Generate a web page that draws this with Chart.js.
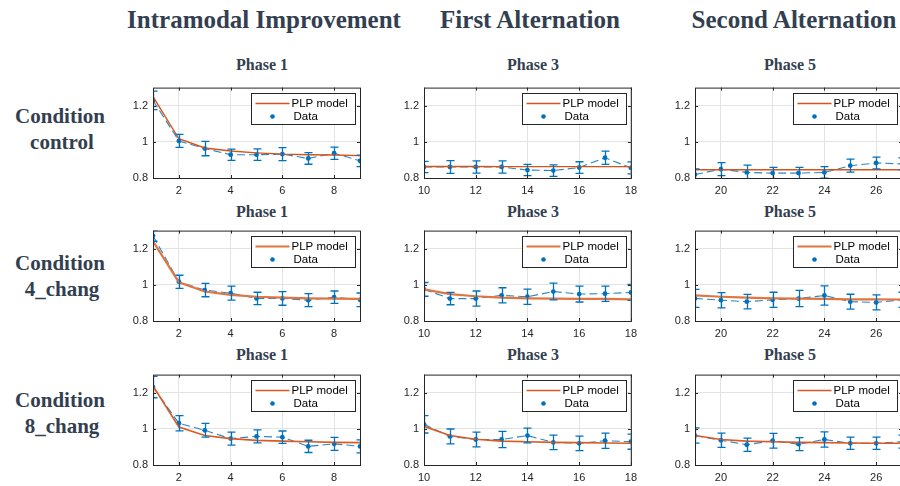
<!DOCTYPE html>
<html>
<head>
<meta charset="utf-8">
<script src="https://cdn.jsdelivr.net/npm/chart.js@4.4.1/dist/chart.umd.min.js"></script>
<style>
  body { margin: 0; width: 900px; height: 486px; overflow: hidden; background: #fff; position: relative; }
  .txt { position: absolute; font-family: "Liberation Serif", serif; font-weight: bold; color: #333f50; white-space: nowrap; transform: translate(-50%, -50%); }
  .head { font-size: 25px; }
  .cond { font-size: 21px; }
  .phase { font-size: 16px; }
  canvas { position: absolute; }
</style>
</head>
<body>
<div class="txt head" style="left:264px;top:20px">Intramodal Improvement</div>
<div class="txt head" style="left:530px;top:20px">First Alternation</div>
<div class="txt head" style="left:794px;top:20px">Second Alternation</div>

<div class="txt cond" style="left:60px;top:116px">Condition</div>
<div class="txt cond" style="left:62px;top:142px">control</div>
<div class="txt cond" style="left:60px;top:263px">Condition</div>
<div class="txt cond" style="left:62px;top:289px">4_chang</div>
<div class="txt cond" style="left:60px;top:400px">Condition</div>
<div class="txt cond" style="left:62px;top:426px">8_chang</div>

<script>
// trial numbers per phase
const trialsP1 = [1, 2, 3, 4, 5, 6, 7, 8, 9];
const trialsP3 = [10, 11, 12, 13, 14, 15, 16, 17, 18];
const trialsP5 = [19, 20, 21, 22, 23, 24, 25, 26, 27];

const xTicksP1 = [2, 4, 6, 8];
const xTicksP3 = [10, 12, 14, 16, 18];
const xTicksP5 = [20, 22, 24, 26];
const yTicks = [0.8, 1, 1.2];

// Condition control
const ctrlP1 = [1.229, 1.005, 0.963, 0.929, 0.929, 0.932, 0.908, 0.937, 0.895];
const ctrlP1Err = [0.051, 0.036, 0.040, 0.031, 0.032, 0.036, 0.032, 0.034, 0.032];
const ctrlP1Model = [1.25, 1.017, 0.966, 0.949, 0.939, 0.932, 0.929, 0.927, 0.924];
const ctrlP3 = [0.861, 0.861, 0.861, 0.861, 0.844, 0.841, 0.858, 0.912, 0.856];
const ctrlP3Err = [0.031, 0.035, 0.034, 0.034, 0.031, 0.032, 0.032, 0.037, 0.033];
const ctrlP3Model = [0.864, 0.864, 0.864, 0.863, 0.863, 0.863, 0.863, 0.863, 0.863];
const ctrlP5 = [0.819, 0.849, 0.831, 0.827, 0.827, 0.831, 0.868, 0.883, 0.878];
const ctrlP5Err = [0.031, 0.036, 0.040, 0.032, 0.032, 0.032, 0.036, 0.033, 0.033];
const ctrlP5Model = [0.846, 0.846, 0.846, 0.846, 0.846, 0.846, 0.846, 0.846, 0.846];

// Condition 4_chang
const c4P1 = [1.271, 1.017, 0.971, 0.954, 0.925, 0.925, 0.915, 0.932, 0.917];
const c4P1Err = [0.030, 0.036, 0.037, 0.039, 0.034, 0.038, 0.036, 0.034, 0.038];
const c4P1Model = [1.242, 1.014, 0.963, 0.944, 0.934, 0.929, 0.925, 0.924, 0.922];
const c4P3 = [0.975, 0.924, 0.924, 0.942, 0.934, 0.963, 0.949, 0.951, 0.958];
const c4P3Err = [0.038, 0.034, 0.042, 0.042, 0.042, 0.046, 0.044, 0.042, 0.044];
const c4P3Model = [0.975, 0.949, 0.937, 0.929, 0.925, 0.924, 0.922, 0.922, 0.920];
const c4P5 = [0.925, 0.915, 0.907, 0.917, 0.924, 0.941, 0.907, 0.903, 0.917];
const c4P5Err = [0.050, 0.042, 0.040, 0.042, 0.045, 0.053, 0.041, 0.042, 0.042];
const c4P5Model = [0.942, 0.934, 0.929, 0.925, 0.924, 0.922, 0.920, 0.920, 0.919];

// Condition 8_chang
const c8P1 = [1.231, 1.031, 0.992, 0.946, 0.958, 0.954, 0.903, 0.917, 0.903];
const c8P1Err = [0.059, 0.042, 0.038, 0.036, 0.036, 0.034, 0.034, 0.036, 0.036];
const c8P1Model = [1.237, 1.010, 0.963, 0.946, 0.936, 0.932, 0.929, 0.925, 0.924];
const c8P3 = [1.025, 0.958, 0.941, 0.941, 0.963, 0.925, 0.920, 0.934, 0.929];
const c8P3Err = [0.048, 0.041, 0.041, 0.045, 0.041, 0.040, 0.040, 0.042, 0.042];
const c8P3Model = [1.014, 0.963, 0.942, 0.932, 0.929, 0.925, 0.924, 0.922, 0.920];
const c8P5 = [0.963, 0.937, 0.912, 0.934, 0.915, 0.941, 0.920, 0.920, 0.929];
const c8P5Err = [0.042, 0.039, 0.037, 0.041, 0.036, 0.042, 0.034, 0.034, 0.036];
const c8P5Model = [0.963, 0.941, 0.932, 0.929, 0.925, 0.924, 0.922, 0.920, 0.920];

const phaseTitles = ['Phase 1', 'Phase 3', 'Phase 5'];
const colTrials = [trialsP1, trialsP3, trialsP5];
const colTicks = [xTicksP1, xTicksP3, xTicksP5];

const grid = [
  [[ctrlP1, ctrlP1Err, ctrlP1Model], [ctrlP3, ctrlP3Err, ctrlP3Model], [ctrlP5, ctrlP5Err, ctrlP5Model]],
  [[c4P1, c4P1Err, c4P1Model], [c4P3, c4P3Err, c4P3Model], [c4P5, c4P5Err, c4P5Model]],
  [[c8P1, c8P1Err, c8P1Model], [c8P3, c8P3Err, c8P3Model], [c8P5, c8P5Err, c8P5Model]]
];

// layout (px)
const COL_LEFT = [153, 424, 695];
const ROW_TOP = [80, 223, 367];
const PLOT_W = 207, PLOT_H = 98;
const AXW = 34, PADR = 12, PADT = 4, XH = 22;
const TITLE_X = [262, 533, 790];
const TITLE_Y = [65, 212, 355];

const BLUE = '#0072BD';
const MODEL_COL = ['#d95319', '#e2743f', '#dc5a22'];
const MODEL_W = [1.4, 2.2, 1.6];
const AX_COL = '#262626';

const matlabPlugin = {
  id: 'matlabLook',
  afterDatasetsDraw(chart) {
    const ctx = chart.ctx, a = chart.chartArea;
    const xs = chart.scales.x, ys = chart.scales.y;
    const ds = chart.data.datasets[0];
    ctx.save();
    ctx.beginPath();
    ctx.rect(a.left, a.top, a.right - a.left, a.bottom - a.top);
    ctx.clip();
    ctx.strokeStyle = BLUE;
    ctx.lineWidth = 1.3;
    ds.data.forEach((p, i) => {
      const e = ds.errors[i];
      const px = Math.round(xs.getPixelForValue(p.x)) + 0.5;
      const y1 = ys.getPixelForValue(p.y + e), y2 = ys.getPixelForValue(p.y - e);
      ctx.beginPath();
      ctx.moveTo(px, y1); ctx.lineTo(px, y2);
      ctx.moveTo(px - 4, y1); ctx.lineTo(px + 4, y1);
      ctx.moveTo(px - 4, y2); ctx.lineTo(px + 4, y2);
      ctx.stroke();
    });
    ctx.restore();
  },
  afterDraw(chart) {
    const ctx = chart.ctx, a = chart.chartArea;
    const xs = chart.scales.x, ys = chart.scales.y;
    const row = chart.options.plugins.matlabLook.row;
    ctx.save();
    // box + inward ticks
    ctx.strokeStyle = AX_COL;
    ctx.lineWidth = 1;
    ctx.strokeRect(a.left + 0.5, a.top + 0.5, a.right - a.left, a.bottom - a.top);
    ctx.beginPath();
    xs.ticks.forEach(t => {
      const px = Math.round(xs.getPixelForValue(t.value)) + 0.5;
      ctx.moveTo(px, a.bottom); ctx.lineTo(px, a.bottom - 3);
      ctx.moveTo(px, a.top); ctx.lineTo(px, a.top + 3);
    });
    ys.ticks.forEach(t => {
      const py = Math.round(ys.getPixelForValue(t.value)) + 0.5;
      ctx.moveTo(a.left, py); ctx.lineTo(a.left + 3, py);
      ctx.moveTo(a.right, py); ctx.lineTo(a.right - 3, py);
    });
    ctx.stroke();
    // legend
    const bw = 104, bh = 31;
    const bx = Math.round(a.right - 5 - bw) + 0.5, by = Math.round(a.top + 5) + 0.5;
    ctx.fillStyle = '#fff';
    ctx.fillRect(bx, by, bw, bh);
    ctx.strokeRect(bx, by, bw, bh);
    ctx.strokeStyle = MODEL_COL[row];
    ctx.lineWidth = MODEL_W[row];
    ctx.beginPath();
    ctx.moveTo(bx + 4, by + 10); ctx.lineTo(bx + 38, by + 10);
    ctx.stroke();
    ctx.fillStyle = BLUE;
    ctx.beginPath();
    ctx.arc(bx + 21, by + 23, 2.3, 0, Math.PI * 2);
    ctx.fill();
    ctx.fillStyle = '#000';
    ctx.font = '11.5px "Liberation Sans", Arial, sans-serif';
    ctx.textBaseline = 'middle';
    ctx.fillText('PLP model', bx + 40, by + 10);
    ctx.fillText('Data', bx + 42, by + 23);
    ctx.restore();
  }
};

grid.forEach((rowPanels, r) => {
  rowPanels.forEach((panel, c) => {
    const [vals, errs, model] = panel;
    const trials = colTrials[c];

    const t = document.createElement('div');
    t.className = 'txt phase';
    t.style.left = TITLE_X[c] + 'px';
    t.style.top = TITLE_Y[r] + 'px';
    t.textContent = phaseTitles[c];
    document.body.appendChild(t);

    const cv = document.createElement('canvas');
    const w = AXW + PLOT_W + PADR, h = PADT + PLOT_H + XH;
    cv.width = w; cv.height = h;
    cv.style.width = w + 'px'; cv.style.height = h + 'px';
    cv.style.left = (COL_LEFT[c] - AXW) + 'px';
    cv.style.top = (ROW_TOP[r] - PADT) + 'px';
    document.body.appendChild(cv);

    new Chart(cv, {
      type: 'line',
      data: {
        datasets: [
          {
            label: 'Data',
            data: trials.map((x, i) => ({ x: x, y: vals[i] })),
            errors: errs,
            borderColor: 'rgba(0,114,189,0.85)',
            borderWidth: 1.1,
            borderDash: [8, 4],
            pointRadius: 2.4,
            pointBackgroundColor: BLUE,
            pointBorderWidth: 0,
            tension: 0,
            order: 2
          },
          {
            label: 'PLP model',
            data: trials.map((x, i) => ({ x: x, y: model[i] })),
            borderColor: MODEL_COL[r],
            borderWidth: MODEL_W[r],
            pointRadius: 0,
            tension: 0,
            order: 1
          }
        ]
      },
      options: {
        responsive: false,
        animation: false,
        devicePixelRatio: 1,
        layout: { padding: { top: PADT, right: PADR, left: 0, bottom: 0 } },
        plugins: {
          legend: { display: false },
          tooltip: { enabled: false },
          matlabLook: { row: r }
        },
        scales: {
          x: {
            type: 'linear',
            min: trials[0],
            max: trials[trials.length - 1],
            afterBuildTicks: s => { s.ticks = colTicks[c].map(v => ({ value: v })); },
            afterFit: s => { s.height = XH; },
            grid: { color: '#e3e3e3', drawTicks: false },
            border: { display: false },
            ticks: { padding: 6, color: AX_COL, font: { family: '"Liberation Sans", Arial', size: 11 }, maxRotation: 0, callback: v => String(v) }
          },
          y: {
            min: 0.8,
            max: 1.3,
            afterBuildTicks: s => { s.ticks = yTicks.map(v => ({ value: v })); },
            afterFit: s => { s.width = AXW; },
            grid: { color: '#e3e3e3', drawTicks: false },
            border: { display: false },
            ticks: { padding: 5, color: AX_COL, font: { family: '"Liberation Sans", Arial', size: 11 }, callback: v => String(+v.toFixed(2)) }
          }
        }
      },
      plugins: [matlabPlugin]
    });
  });
});
</script>
</body>
</html>
